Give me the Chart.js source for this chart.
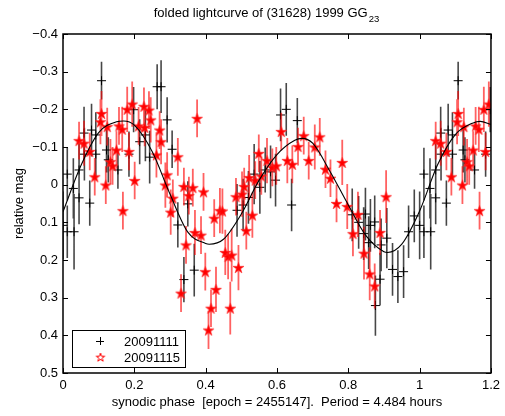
<!DOCTYPE html>
<html>
<head>
<meta charset="utf-8">
<script src="https://cdn.jsdelivr.net/npm/chart.js@4.4.1/dist/chart.umd.min.js"></script>
<style>
  html, body { margin: 0; padding: 0; background: #fff; }
  #wrap { width: 505px; height: 416px; }
</style>
</head>
<body>
<div id="wrap"><canvas id="lc" width="505" height="416"></canvas></div>
<script>
// ── Folded lightcurve (31628) 1999 GG23 ─────────────────────────────────────
// fase sinodica in [0,1); i punti con fase <= 0.2 vengono ripetuti a fase+1
const TITLE_MAIN = 'folded lightcurve of (31628) 1999 GG';
const TITLE_SUB = '23';
const X_TITLE = 'synodic phase  [epoch = 2455147].  Period = 4.484 hours';
const Y_TITLE = 'relative mag';

const X_TICKS = [0, 0.2, 0.4, 0.6, 0.8, 1.0, 1.2];
const X_TICK_LABELS = ['0', '0.2', '0.4', '0.6', '0.8', '1', '1.2'];
const Y_TICKS = [-0.4, -0.3, -0.2, -0.1, 0, 0.1, 0.2, 0.3, 0.4, 0.5];
const Y_TICK_LABELS = ['\u22120.4', '\u22120.3', '\u22120.2', '\u22120.1', '0', '0.1', '0.2', '0.3', '0.4', '0.5'];

// serie 20091111 (croci nere)
const N1_LABEL = '20091111';
const N1_PHASE = [
  0.000, 0.012, 0.012, 0.029, 0.031, 0.045, 0.045, 0.059, 0.060, 0.075,
  0.080, 0.092, 0.092, 0.108, 0.122, 0.127, 0.154, 0.185, 0.198, 0.215,
  0.231, 0.243, 0.264, 0.275, 0.292, 0.306, 0.322, 0.339, 0.350, 0.368,
  0.488, 0.505, 0.520, 0.536, 0.552, 0.567, 0.582, 0.596, 0.610, 0.626,
  0.641, 0.657, 0.811, 0.829, 0.843, 0.848, 0.857, 0.862, 0.874, 0.876,
  0.889, 0.892, 0.908, 0.924, 0.939, 0.955, 0.969, 0.985
];
const N1_MAG = [
  0.108, 0.125, -0.028, 0.010, 0.125, 0.035, -0.039, -0.137, -0.081, 0.049,
  -0.145, -0.132, -0.081, -0.276, -0.092, -0.066, -0.039, -0.081, -0.199, -0.114,
  -0.132, -0.073, -0.260, -0.260, -0.172, -0.094, 0.107, 0.252, 0.051, 0.227,
  0.068, 0.054, 0.034, -0.028, 0.007, -0.039, -0.034, -0.012, -0.185, -0.200,
  0.054, -0.170, 0.080, 0.100, 0.130, 0.078, 0.154, 0.108, 0.099, 0.321,
  0.251, 0.160, 0.142, 0.225, 0.244, 0.231, 0.125, 0.083
];
const N1_ERR = [
  0.09, 0.07, 0.07, 0.08, 0.10, 0.07, 0.07, 0.07, 0.07, 0.06,
  0.07, 0.06, 0.06, 0.05, 0.06, 0.06, 0.05, 0.06, 0.06, 0.06,
  0.07, 0.07, 0.06, 0.07, 0.06, 0.05, 0.06, 0.06, 0.06, 0.07,
  0.07, 0.07, 0.07, 0.08, 0.07, 0.06, 0.07, 0.07, 0.07, 0.07,
  0.07, 0.06, 0.07, 0.07, 0.07, 0.07, 0.07, 0.07, 0.07, 0.08,
  0.07, 0.07, 0.08, 0.07, 0.07, 0.07, 0.07, 0.07
];

// serie 20091115 (stelle rosse)
const N2_LABEL = '20091115';
const N2_PHASE = [
  0.045, 0.059, 0.075, 0.089, 0.105, 0.108, 0.120, 0.124, 0.133, 0.139,
  0.150, 0.157, 0.166, 0.168, 0.180, 0.185, 0.194, 0.201, 0.212, 0.227,
  0.229, 0.241, 0.246, 0.262, 0.271, 0.275, 0.287, 0.292, 0.302, 0.308,
  0.322, 0.331, 0.339, 0.345, 0.353, 0.364, 0.370, 0.376, 0.387, 0.394,
  0.399, 0.408, 0.415, 0.424, 0.429, 0.440, 0.447, 0.455, 0.463, 0.469,
  0.473, 0.485, 0.492, 0.502, 0.508, 0.514, 0.522, 0.531, 0.539, 0.549,
  0.556, 0.572, 0.587, 0.598, 0.612, 0.629, 0.643, 0.659, 0.675, 0.689,
  0.706, 0.720, 0.736, 0.750, 0.767, 0.783, 0.797, 0.813, 0.827, 0.844,
  0.860, 0.874, 0.889, 0.906
];
const N2_MAG = [
  -0.117, -0.110, -0.088, -0.021, -0.167, -0.189, 0.001, -0.154, -0.061, -0.050,
  -0.092, -0.156, -0.147, 0.069, -0.200, -0.088, -0.214, -0.011, -0.156, -0.208,
  -0.152, -0.198, -0.172, -0.079, -0.145, -0.114, 0.001, -0.026, 0.073, 0.036,
  -0.074, 0.288, 0.005, 0.160, 0.029, 0.008, 0.127, -0.176, 0.134, 0.019,
  0.231, 0.386, 0.328, 0.089, 0.278, 0.069, 0.070, 0.180, 0.191, 0.328,
  0.187, 0.032, 0.220, 0.025, 0.005, 0.122, -0.019, 0.081, -0.012, -0.083,
  -0.023, -0.064, -0.046, -0.050, -0.141, -0.064, -0.054, -0.101, -0.130, -0.064,
  -0.100, -0.127, -0.041, -0.017, 0.050, -0.059, 0.058, 0.130, 0.079, 0.182,
  0.237, 0.269, 0.127, 0.032
];
const N2_ERR = [
  0.05, 0.06, 0.05, 0.05, 0.06, 0.06, 0.05, 0.05, 0.06, 0.05,
  0.05, 0.05, 0.06, 0.05, 0.06, 0.05, 0.06, 0.05, 0.05, 0.05,
  0.05, 0.05, 0.06, 0.06, 0.05, 0.06, 0.06, 0.06, 0.06, 0.05,
  0.05, 0.05, 0.05, 0.05, 0.05, 0.05, 0.06, 0.05, 0.05, 0.05,
  0.05, 0.05, 0.05, 0.05, 0.06, 0.06, 0.06, 0.06, 0.06, 0.07,
  0.07, 0.05, 0.06, 0.06, 0.05, 0.05, 0.06, 0.06, 0.05, 0.05,
  0.05, 0.06, 0.05, 0.05, 0.05, 0.06, 0.05, 0.05, 0.05, 0.05,
  0.06, 0.05, 0.05, 0.05, 0.05, 0.06, 0.06, 0.06, 0.06, 0.07,
  0.07, 0.06, 0.06, 0.07
];

// curva di fit
const FIT_PHASE = [
  0.00, 0.05, 0.10, 0.15, 0.17, 0.20, 0.25, 0.30, 0.35, 0.40, 0.41, 0.45,
  0.50, 0.55, 0.60, 0.65, 0.67, 0.70, 0.75, 0.80, 0.85, 0.90, 0.91, 0.95,
  1.00, 1.05, 1.10, 1.15, 1.17, 1.20
];
const FIT_MAG = [
  0.072, -0.050, -0.138, -0.167, -0.169, -0.158, -0.088, 0.025, 0.126, 0.156, 0.158, 0.145,
  0.078, -0.012, -0.080, -0.118, -0.123, -0.110, -0.033, 0.054, 0.136, 0.178, 0.180, 0.158,
  0.070, -0.052, -0.133, -0.164, -0.168, -0.160
];

const FONT = '"Liberation Sans", Arial, Helvetica, sans-serif';

function fold(phase, mag, err) {
  const pts = [];
  phase.forEach((p, i) => {
    pts.push({ x: p, y: mag[i], e: err[i] });
    if (p <= 0.2) pts.push({ x: p + 1, y: mag[i], e: err[i] });
  });
  return pts;
}

function errSegments(pts) {
  const out = [];
  pts.forEach(p => {
    out.push({ x: p.x, y: p.y - p.e }, { x: p.x, y: p.y + p.e }, { x: p.x, y: null });
  });
  return out;
}

function starCanvas(filled, R) {
  const s = Math.ceil(R * 2 + 3);
  const c = document.createElement('canvas');
  c.width = s; c.height = s;
  const g = c.getContext('2d');
  g.beginPath();
  for (let k = 0; k < 10; k++) {
    const r = k % 2 ? R * 0.382 : R;
    const a = -Math.PI / 2 + k * Math.PI / 5;
    g.lineTo(s / 2 + r * Math.cos(a), s / 2 + 0.6 + r * Math.sin(a));
  }
  g.closePath();
  if (filled) {
    g.fillStyle = '#ff0000';
    g.fill();
    g.strokeStyle = 'rgba(255,40,40,0.6)';
  } else {
    g.strokeStyle = '#ff0000';
  }
  g.lineWidth = 1;
  g.stroke();
  return c;
}

const pts1 = fold(N1_PHASE, N1_MAG, N1_ERR);
const pts2 = fold(N2_PHASE, N2_MAG, N2_ERR);
const STAR = starCanvas(true, 5.8);
const STAR_HOLLOW = starCanvas(false, 4.5);

// riquadro, tacche interne, titolo con pedice e legenda
const framePlugin = {
  id: 'frame',
  afterDraw(chart) {
    const { ctx, chartArea: a, scales: { x, y } } = chart;
    ctx.save();
    ctx.strokeStyle = '#000';
    ctx.lineWidth = 1.5;
    ctx.strokeRect(a.left, a.top, a.right - a.left, a.bottom - a.top);
    ctx.lineWidth = 1;
    ctx.beginPath();
    X_TICKS.forEach(v => {
      const px = Math.round(x.getPixelForValue(v)) + 0.5;
      ctx.moveTo(px, a.bottom); ctx.lineTo(px, a.bottom - 5);
      ctx.moveTo(px, a.top); ctx.lineTo(px, a.top + 5);
    });
    Y_TICKS.forEach(v => {
      const py = Math.round(y.getPixelForValue(v)) + 0.5;
      ctx.moveTo(a.left, py); ctx.lineTo(a.left + 5, py);
      ctx.moveTo(a.right, py); ctx.lineTo(a.right - 5, py);
    });
    ctx.stroke();

    // titolo
    ctx.fillStyle = '#000';
    ctx.textBaseline = 'alphabetic';
    ctx.font = '13px ' + FONT;
    const w1 = ctx.measureText(TITLE_MAIN).width;
    ctx.font = '9.5px ' + FONT;
    const w2 = ctx.measureText(TITLE_SUB).width;
    const tx = 266.5 - (w1 + w2 + 1) / 2;
    ctx.font = '13px ' + FONT;
    ctx.textAlign = 'left';
    ctx.fillText(TITLE_MAIN, tx, 17);
    ctx.font = '9.5px ' + FONT;
    ctx.fillText(TITLE_SUB, tx + w1 + 1, 21.5);

    // legenda
    const lx = a.left + 9, ly = a.bottom - 43, lw = 113, lh = 37;
    ctx.fillStyle = '#fff';
    ctx.fillRect(lx, ly, lw, lh);
    ctx.lineWidth = 1;
    ctx.strokeStyle = '#000';
    ctx.strokeRect(lx + 0.5, ly + 0.5, lw, lh);
    const r1 = ly + 11, r2 = ly + 27, mx = lx + 28;
    ctx.beginPath();
    ctx.moveTo(mx - 4, r1 + 0.5); ctx.lineTo(mx + 4, r1 + 0.5);
    ctx.moveTo(mx + 0.5, r1 - 4); ctx.lineTo(mx + 0.5, r1 + 4);
    ctx.stroke();
    ctx.drawImage(STAR_HOLLOW, mx - STAR_HOLLOW.width / 2 + 0.5, r2 - STAR_HOLLOW.height / 2);
    ctx.fillStyle = '#000';
    ctx.font = '13px ' + FONT;
    ctx.textBaseline = 'middle';
    ctx.fillText(chart.data.datasets[1].label, lx + 52, r1 + 1);
    ctx.fillText(chart.data.datasets[3].label, lx + 52, r2 + 1);
    ctx.restore();
  }
};

Chart.defaults.font.family = FONT;
Chart.defaults.font.size = 13;
Chart.defaults.color = '#000';

new Chart(document.getElementById('lc'), {
  type: 'scatter',
  data: {
    datasets: [
      {
        type: 'line',
        label: N1_LABEL + ' err',
        data: errSegments(pts1),
        borderColor: 'rgba(0,0,0,0.72)',
        borderWidth: 1.6,
        pointRadius: 0,
        spanGaps: false,
        order: 6,
      },
      {
        label: N1_LABEL,
        data: pts1,
        pointStyle: 'cross',
        pointRadius: 4.5,
        borderColor: '#000',
        borderWidth: 1,
        order: 5,
      },
      {
        type: 'line',
        label: N2_LABEL + ' err',
        data: errSegments(pts2),
        borderColor: 'rgba(255,0,0,0.62)',
        borderWidth: 1.8,
        pointRadius: 0,
        spanGaps: false,
        order: 4,
      },
      {
        label: N2_LABEL,
        data: pts2,
        pointStyle: STAR,
        pointRadius: 6,
        order: 3,
      },
      {
        type: 'line',
        label: 'fit',
        data: FIT_PHASE.map((p, i) => ({ x: p, y: FIT_MAG[i] })),
        borderColor: '#000',
        borderWidth: 1.1,
        pointRadius: 0,
        cubicInterpolationMode: 'monotone',
        order: 1,
      },
    ],
  },
  options: {
    responsive: false,
    animation: false,
    layout: { padding: { top: 34, right: 12, left: 0, bottom: 0 } },
    plugins: {
      legend: { display: false },
      title: { display: false },
      tooltip: { enabled: false },
    },
    scales: {
      x: {
        type: 'linear',
        min: 0,
        max: 1.2,
        afterBuildTicks: s => { s.ticks = X_TICKS.map(v => ({ value: v })); },
        afterFit: s => { s.height = 43; },
        ticks: {
          padding: 5,
          maxRotation: 0,
          autoSkip: false,
          callback: (v, i) => X_TICK_LABELS[i],
        },
        grid: { display: false, drawTicks: false },
        border: { display: false },
        title: { display: true, text: X_TITLE, padding: { top: 0, bottom: 6 } },
      },
      y: {
        type: 'linear',
        reverse: true,
        min: -0.4,
        max: 0.5,
        afterBuildTicks: s => { s.ticks = Y_TICKS.map(v => ({ value: v })); },
        afterFit: s => { s.width = 63; },
        ticks: {
          padding: 5,
          autoSkip: false,
          callback: (v, i) => Y_TICK_LABELS[i],
        },
        grid: { display: false, drawTicks: false },
        border: { display: false },
        title: { display: true, text: Y_TITLE, padding: { top: 12, bottom: 0 } },
      },
    },
  },
  plugins: [framePlugin],
});
</script>
</body>
</html>
